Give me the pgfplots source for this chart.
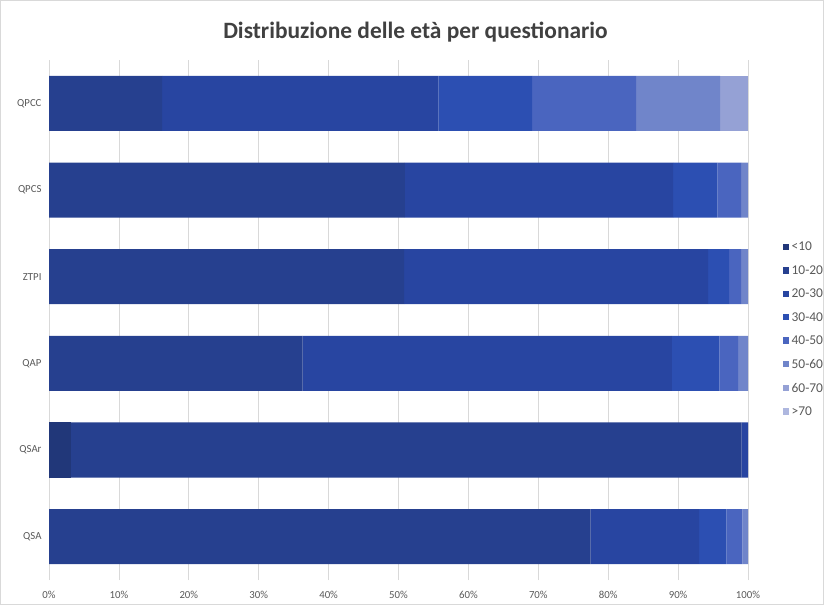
\documentclass[border=0pt]{standalone}
\usepackage{fontspec}
\setmainfont{Carlito}
\usepackage{pgfplots}
\pgfplotsset{compat=1.18}
\usepackage{pgfplotstable}

\definecolor{cA}{HTML}{213779}
\definecolor{cB}{HTML}{26408F}
\definecolor{cC}{HTML}{2845A1}
\definecolor{cD}{HTML}{2C4FB2}
\definecolor{cE}{HTML}{4A65BF}
\definecolor{cF}{HTML}{7085CA}
\definecolor{cG}{HTML}{95A1D5}
\definecolor{cH}{HTML}{AEB7DF}
\definecolor{txt}{HTML}{595959}
\definecolor{titlecol}{HTML}{404040}
\definecolor{gridcol}{HTML}{D9D9D9}

% percentuali per fascia d'eta (y: 0 = QSA ... 5 = QPCC)
\pgfplotstableread{
y  a   b    c    d    e    f    g   h
0  0   77.5 15.5 3.9  2.3  0.8  0   0
1  3.1 96.0 0.9  0    0    0    0   0
2  0   36.3 52.8 6.8  2.7  1.4  0   0
3  0   50.8 43.5 3.0  1.7  1.0  0   0
4  0   50.9 38.4 6.3  3.4  1.0  0   0
5  0   16.2 39.5 13.4 14.9 12.0 4.0 0
}\dati

\newcommand{\serie}[2]{%
  \addplot[draw=none, fill=#1] table[x=#2, y=y]{\dati};}

\begin{document}
\begin{tikzpicture}
\useasboundingbox (0,0) rectangle (824bp,605bp);
\draw[gridcol] (0.5bp,0.5bp) rectangle (823.5bp,604.5bp);
\node[font=\fontsize{23.5}{27}\selectfont\bfseries, text=titlecol] at (415.5bp,573bp)
  {Distribuzione delle età per questionario};
\begin{axis}[
  at={(49bp,25bp)}, anchor=south west,
  scale only axis, width=699bp, height=520bp,
  xbar stacked, bar width=55bp,
  xmin=0, xmax=100, ymin=-0.5, ymax=5.5,
  axis line style={draw=none},
  major tick length=0pt,
  xtick={0,10,...,100},
  xticklabel={\pgfmathprintnumber{\tick}\%},
  xmajorgrids, grid style={gridcol, line width=0.8bp},
  ytick={0,...,5},
  yticklabels={QSA,QSAr,QAP,ZTPI,QPCS,QPCC},
  /pgf/number format/assume math mode=true,
  tick label style={font=\fontsize{10.8}{12}\selectfont, text=txt},
  xticklabel style={yshift=-8bp},
  yticklabel style={xshift=-4bp},
  legend cell align=left,
  legend style={draw=none, fill=none, at={(1.045,0.655)}, anchor=north west,
    font=\fontsize{13.5}{15}\selectfont, text=txt, row sep=12.2bp,
    nodes={inner sep=0.5bp}},
  legend image code/.code={\fill[#1] (0bp,-3bp) rectangle (6.5bp,3.5bp);},
]
\serie{cA}{a}
\serie{cB}{b}
\serie{cC}{c}
\serie{cD}{d}
\serie{cE}{e}
\serie{cF}{f}
\serie{cG}{g}
\serie{cH}{h}
\legend{\hspace{2bp}<10,\hspace{2bp}10-20,\hspace{2bp}20-30,\hspace{2bp}30-40,
  \hspace{2bp}40-50,\hspace{2bp}50-60,\hspace{2bp}60-70,\hspace{2bp}>70}
\end{axis}
\end{tikzpicture}
\end{document}
